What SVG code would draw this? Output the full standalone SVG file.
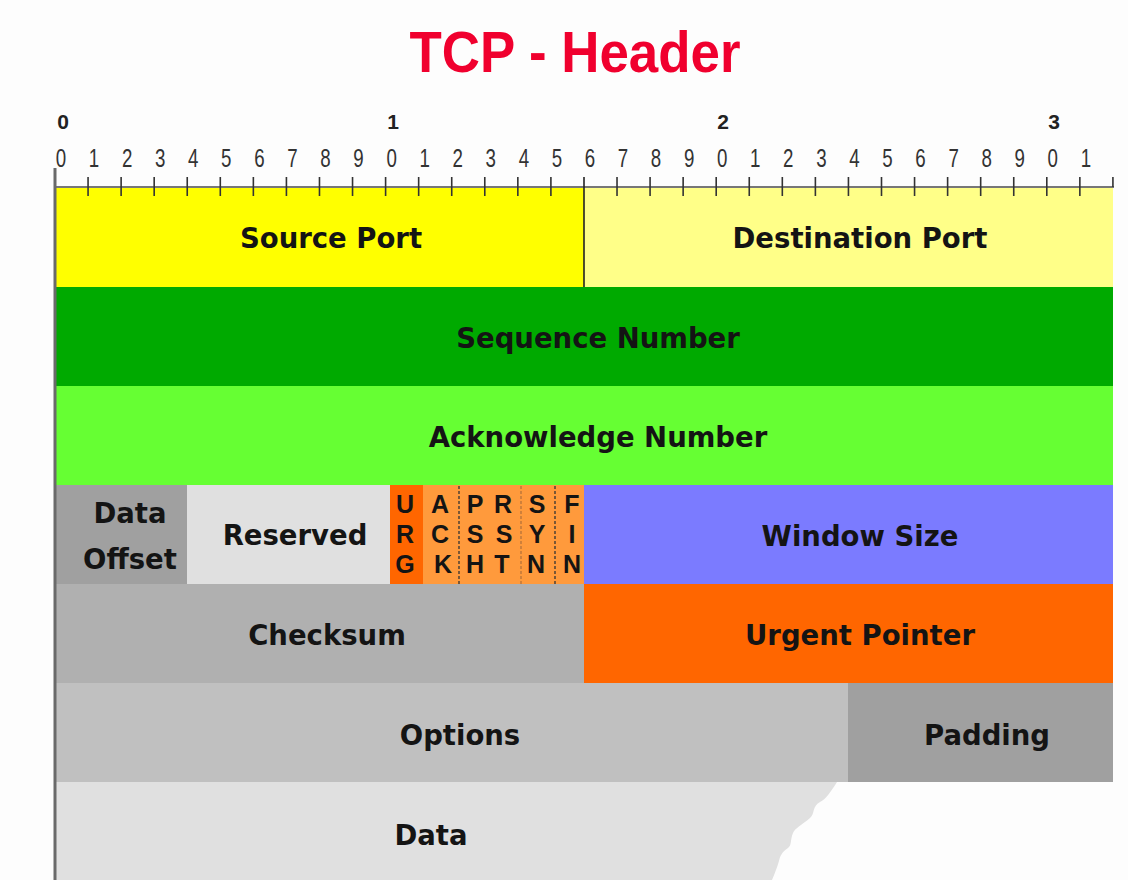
<svg xmlns="http://www.w3.org/2000/svg" width="1128" height="880" viewBox="0 0 1128 880">
<style>
.lbl{font-family:"DejaVu Sans",Verdana,sans-serif;font-weight:bold;font-size:27.5px;fill:#141414;text-anchor:middle}
.flag{font-family:"Liberation Sans",Arial,sans-serif;font-weight:bold;font-size:25px;fill:#141414;text-anchor:middle}
.dig{font-family:"Liberation Sans",Arial,sans-serif;font-size:26px;fill:#333;text-anchor:middle}
.big{font-family:"Liberation Sans",Arial,sans-serif;font-weight:bold;font-size:21px;fill:#222;text-anchor:middle}
.tick{stroke:#333;stroke-width:1.6;fill:none}
.dash{stroke:#333;stroke-width:1.3;stroke-dasharray:3 2;fill:none}
.dashl{stroke:#b0703a;stroke-width:1.2;stroke-dasharray:3 2;fill:none}
</style>
<rect x="0" y="0" width="1128" height="880" fill="#fdfdfd"/>
<text x="575" y="72" font-family="Liberation Sans, Arial, sans-serif" font-weight="bold" font-size="58" fill="#f0002e" text-anchor="middle" textLength="331" lengthAdjust="spacingAndGlyphs">TCP - Header</text>

<g id="ruler">
<text class="big" x="63" y="129">0</text>
<text class="big" x="393" y="129">1</text>
<text class="big" x="723" y="129">2</text>
<text class="big" x="1054" y="129">3</text>
<g transform="scale(0.72,1)">
<text class="dig" x="84.72" y="167">0</text>
<text class="dig" x="130.64" y="167">1</text>
<text class="dig" x="176.56" y="167">2</text>
<text class="dig" x="222.47" y="167">3</text>
<text class="dig" x="268.39" y="167">4</text>
<text class="dig" x="314.31" y="167">5</text>
<text class="dig" x="360.22" y="167">6</text>
<text class="dig" x="406.14" y="167">7</text>
<text class="dig" x="452.06" y="167">8</text>
<text class="dig" x="497.97" y="167">9</text>
<text class="dig" x="543.89" y="167">0</text>
<text class="dig" x="589.81" y="167">1</text>
<text class="dig" x="635.72" y="167">2</text>
<text class="dig" x="681.64" y="167">3</text>
<text class="dig" x="727.56" y="167">4</text>
<text class="dig" x="773.47" y="167">5</text>
<text class="dig" x="819.39" y="167">6</text>
<text class="dig" x="865.31" y="167">7</text>
<text class="dig" x="911.22" y="167">8</text>
<text class="dig" x="957.14" y="167">9</text>
<text class="dig" x="1003.06" y="167">0</text>
<text class="dig" x="1048.97" y="167">1</text>
<text class="dig" x="1094.89" y="167">2</text>
<text class="dig" x="1140.81" y="167">3</text>
<text class="dig" x="1186.72" y="167">4</text>
<text class="dig" x="1232.64" y="167">5</text>
<text class="dig" x="1278.56" y="167">6</text>
<text class="dig" x="1324.47" y="167">7</text>
<text class="dig" x="1370.39" y="167">8</text>
<text class="dig" x="1416.31" y="167">9</text>
<text class="dig" x="1462.22" y="167">0</text>
<text class="dig" x="1508.14" y="167">1</text>
</g>
</g>

<g id="source-port"><rect x="55" y="188" width="529" height="99" fill="#ffff00"/><text class="lbl" x="331" y="248">Source Port</text></g>
<g id="destination-port"><rect x="584" y="188" width="529" height="99" fill="#ffff88"/><text class="lbl" x="860" y="248">Destination Port</text></g>
<g id="sequence-number"><rect x="55" y="287" width="1058" height="99" fill="#00aa00"/><text class="lbl" x="598" y="348">Sequence Number</text></g>
<g id="acknowledge-number"><rect x="55" y="386" width="1058" height="99" fill="#66ff33"/><text class="lbl" x="598" y="447">Acknowledge Number</text></g>
<g id="data-offset"><rect x="55" y="485" width="132" height="99" fill="#a0a0a0"/><text class="lbl" x="130" y="523">Data</text><text class="lbl" x="130" y="569">Offset</text></g>
<g id="reserved"><rect x="187" y="485" width="203" height="99" fill="#e0e0e0"/><text class="lbl" x="295" y="545">Reserved</text></g>
<g id="urg"><rect x="390" y="485" width="33" height="99" fill="#ff6600"/><text class="flag" x="405" y="513">U</text><text class="flag" x="405" y="543">R</text><text class="flag" x="405" y="573">G</text></g>
<g id="flags"><rect x="423" y="485" width="161" height="99" fill="#ff9a3c"/>
<text class="flag" x="440" y="513">A</text><text class="flag" x="440" y="543">C</text><text class="flag" x="443" y="573">K</text>
<text class="flag" x="475" y="513">P</text><text class="flag" x="475" y="543">S</text><text class="flag" x="475" y="573">H</text>
<text class="flag" x="503" y="513">R</text><text class="flag" x="504" y="543">S</text><text class="flag" x="502" y="573">T</text>
<text class="flag" x="537" y="513">S</text><text class="flag" x="537" y="543">Y</text><text class="flag" x="536" y="573">N</text>
<text class="flag" x="572" y="513">F</text><text class="flag" x="572" y="543">I</text><text class="flag" x="572" y="573">N</text>
<path class="dash" d="M459,486V584M555,486V584"/>
<path class="dashl" d="M521,486V584"/>
</g>
<g id="window-size"><rect x="584" y="485" width="529" height="99" fill="#7b7bff"/><text class="lbl" x="860" y="546">Window Size</text></g>
<g id="checksum"><rect x="55" y="584" width="529" height="99" fill="#b0b0b0"/><text class="lbl" x="327" y="645">Checksum</text></g>
<g id="urgent-pointer"><rect x="584" y="584" width="529" height="99" fill="#ff6600"/><text class="lbl" x="860" y="645">Urgent Pointer</text></g>
<g id="options"><rect x="55" y="683" width="793" height="99" fill="#c0c0c0"/><text class="lbl" x="460" y="745">Options</text></g>
<g id="padding"><rect x="848" y="683" width="265" height="99" fill="#a0a0a0"/><text class="lbl" x="987" y="745">Padding</text></g>
<g id="data"><path d="M55,782H837C830,793 826,799 820,802C812,806 815,814 810,818C802,825 795,828 793,833C790,840 792,845 788,848C782,852 780,856 779,861C777,868 774,875 772,880H55Z" fill="#e0e0e0"/><text class="lbl" x="431" y="845">Data</text></g>

<g id="ruler-lines">
<line x1="55" y1="187" x2="1114" y2="187" stroke="#777" stroke-width="2"/>
<path class="tick" d="M88.06,177V196M121.12,177V196M154.18,177V196M187.24,177V196M220.3,177V196M253.36,177V196M286.42,177V196M319.48,177V196M352.54,177V196M385.6,177V196M418.66,177V196M451.72,177V196M484.78,177V196M517.84,177V196M550.9,177V196M617.02,177V196M650.08,177V196M683.14,177V196M716.2,177V196M749.26,177V196M782.32,177V196M815.38,177V196M848.44,177V196M881.5,177V196M914.56,177V196M947.62,177V196M980.68,177V196M1013.74,177V196M1046.8,177V196M1079.86,177V196M1112.92,177V187"/>
<path d="M584,177V287" stroke="#222" stroke-width="1.6"/>
<line x1="55" y1="168" x2="55" y2="880" stroke="#6a6a6a" stroke-width="3"/>
</g>
</svg>
